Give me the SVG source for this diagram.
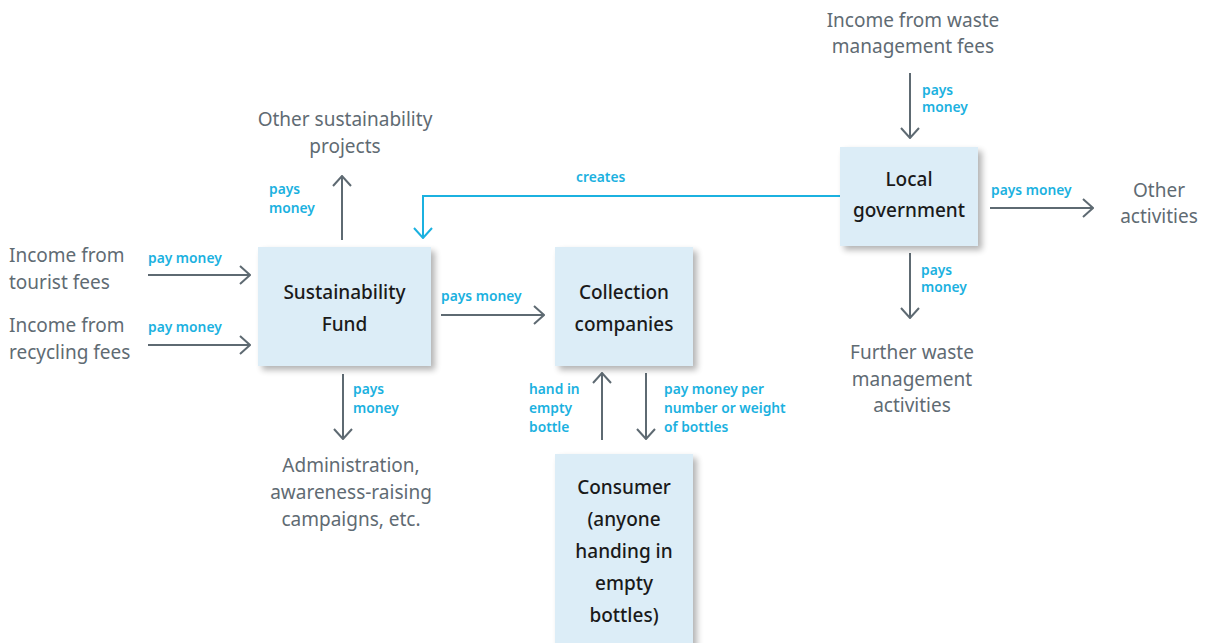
<svg xmlns="http://www.w3.org/2000/svg" width="1206" height="643" viewBox="0 0 1206 643">
<style>
.box{fill:#dcedf7;filter:url(#sh)}
.bt{font-family:"Noto Sans","Liberation Sans",sans-serif;font-size:19px;font-weight:500;fill:#1a1a1a;text-anchor:middle}
.gt{font-family:"Noto Sans","Liberation Sans",sans-serif;font-size:19px;fill:#5f6b73}
.lb{font-family:"Noto Sans","Liberation Sans",sans-serif;font-size:13.8px;font-weight:600;fill:#1bb1e0}
.ar{stroke:#5e6a72;stroke-width:2;fill:none;marker-end:url(#ah)}
.cy{stroke:#1bb1e0;stroke-width:2;fill:none;marker-end:url(#ahc)}
.m{text-anchor:middle}
</style>
<defs>
<filter id="sh" x="-10%" y="-10%" width="130%" height="130%">
<feGaussianBlur in="SourceAlpha" stdDeviation="3"/>
<feOffset dx="4" dy="4" result="b"/>
<feComponentTransfer><feFuncA type="linear" slope="0.3"/></feComponentTransfer>
<feMerge><feMergeNode/><feMergeNode in="SourceGraphic"/></feMerge>
</filter>
<marker id="ah" viewBox="0 0 12 20" refX="11" refY="10" markerWidth="12" markerHeight="20" markerUnits="userSpaceOnUse" orient="auto">
<path d="M1,1 L11,10 L1,19" stroke="#5e6a72" stroke-width="2" fill="none"/>
</marker>
<marker id="ahc" viewBox="0 0 12 20" refX="11" refY="10" markerWidth="12" markerHeight="20" markerUnits="userSpaceOnUse" orient="auto">
<path d="M1,1 L11,10 L1,19" stroke="#1bb1e0" stroke-width="2" fill="none"/>
</marker>
</defs>

<g id="connectors">
<line class="ar" x1="148" y1="275" x2="250" y2="275"/>
<line class="ar" x1="148" y1="345" x2="250" y2="345"/>
<line class="ar" x1="342" y1="240" x2="342" y2="176"/>
<line class="ar" x1="343" y1="374" x2="343" y2="439"/>
<line class="ar" x1="441" y1="315" x2="544" y2="315"/>
<line class="ar" x1="602" y1="440" x2="602" y2="373"/>
<line class="ar" x1="646" y1="373" x2="646" y2="439"/>
<polyline class="cy" points="840,196 423,196 423,238"/>
<line class="ar" x1="910" y1="73" x2="910" y2="138"/>
<line class="ar" x1="990" y1="208" x2="1093" y2="208"/>
<line class="ar" x1="910" y1="253" x2="910" y2="318"/>
<text class="lb" x="148" y="263">pay money</text>
<text class="lb" x="148" y="332">pay money</text>
<text class="lb" x="269" y="194">pays</text>
<text class="lb" x="269" y="213">money</text>
<text class="lb" x="353" y="394">pays</text>
<text class="lb" x="353" y="413">money</text>
<text class="lb" x="441" y="301">pays money</text>
<text class="lb" x="529" y="394">hand in</text>
<text class="lb" x="529" y="413">empty</text>
<text class="lb" x="529" y="432">bottle</text>
<text class="lb" x="664" y="394">pay money per</text>
<text class="lb" x="664" y="413">number or weight</text>
<text class="lb" x="664" y="432">of bottles</text>
<text class="lb" x="576" y="182">creates</text>
<text class="lb" x="922" y="95">pays</text>
<text class="lb" x="922" y="112">money</text>
<text class="lb" x="991" y="195">pays money</text>
<text class="lb" x="921" y="275">pays</text>
<text class="lb" x="921" y="292">money</text>
</g>

<g id="income-tourist"><text class="gt" x="9" y="262">Income from</text><text class="gt" x="9" y="289">tourist fees</text></g>
<g id="income-recycling"><text class="gt" x="9" y="332">Income from</text><text class="gt" x="9" y="359">recycling fees</text></g>
<g id="other-sustainability"><text class="gt m" x="345" y="126">Other sustainability</text><text class="gt m" x="345" y="153">projects</text></g>
<g id="administration"><text class="gt m" x="351" y="472">Administration,</text><text class="gt m" x="351" y="499">awareness-raising</text><text class="gt m" x="351" y="526">campaigns, etc.</text></g>
<g id="income-waste"><text class="gt m" x="913" y="27">Income from waste</text><text class="gt m" x="913" y="53">management fees</text></g>
<g id="other-activities"><text class="gt m" x="1159" y="197">Other</text><text class="gt m" x="1159" y="223">activities</text></g>
<g id="further-waste"><text class="gt m" x="912" y="359">Further waste</text><text class="gt m" x="912" y="386">management</text><text class="gt m" x="912" y="412">activities</text></g>

<g id="sustainability-fund"><rect class="box" x="258" y="247" width="173" height="119"/><text class="bt" x="344.5" y="299">Sustainability</text><text class="bt" x="344.5" y="331">Fund</text></g>
<g id="collection-companies"><rect class="box" x="555" y="247" width="138" height="119"/><text class="bt" x="624" y="299">Collection</text><text class="bt" x="624" y="331">companies</text></g>
<g id="consumer"><rect class="box" x="555" y="454" width="138" height="200"/><text class="bt" x="624" y="494">Consumer</text><text class="bt" x="624" y="526">(anyone</text><text class="bt" x="624" y="558">handing in</text><text class="bt" x="624" y="590">empty</text><text class="bt" x="624" y="622">bottles)</text></g>
<g id="local-government"><rect class="box" x="840" y="147" width="138" height="99"/><text class="bt" x="909" y="186">Local</text><text class="bt" x="909" y="217">government</text></g>
</svg>
